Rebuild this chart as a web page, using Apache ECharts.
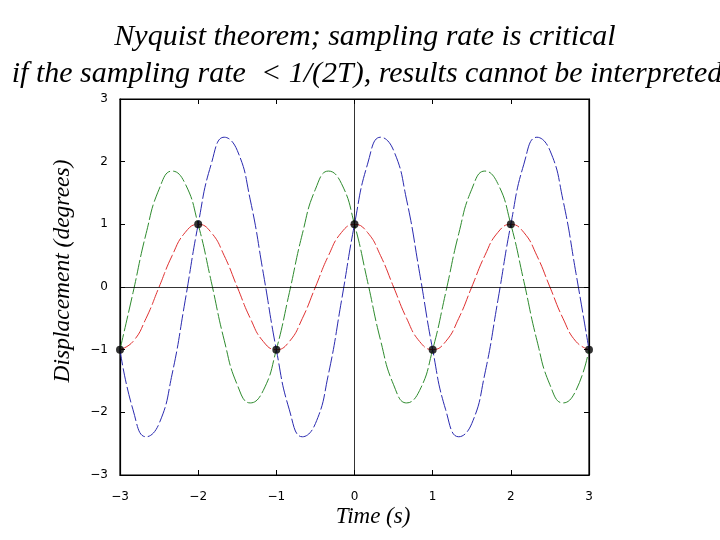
<!DOCTYPE html>
<html>
<head>
<meta charset="utf-8">
<script src="https://cdn.jsdelivr.net/npm/echarts@6/dist/echarts.min.js"></script>
<style>html,body{margin:0;padding:0;background:#fff;}#c{width:720px;height:540px;}</style>
</head>
<body>
<div id="c"></div>
<script>
// Time samples (s), every 1/6 s from -3 to 3
const times = [];
for (let k = 0; k <= 36; k++) times.push(-3 + k / 6);

// Values (degrees)
const redValues = [-1,-0.87,-0.5,0,0.5,0.87,1,0.87,0.5,0,-0.5,-0.87,
                   -1,-0.87,-0.5,0,0.5,0.87,1,0.87,0.5,0,-0.5,-0.87,
                   -1,-0.87,-0.5,0,0.5,0.87,1,0.87,0.5,0,-0.5,-0.87,-1];
const greenValues = [-1,-0.09,0.85,1.56,1.85,1.65,1,0.09,-0.85,-1.56,-1.85,-1.65,
                     -1,-0.09,0.85,1.56,1.85,1.65,1,0.09,-0.85,-1.56,-1.85,-1.65,
                     -1,-0.09,0.85,1.56,1.85,1.65,1,0.09,-0.85,-1.56,-1.85,-1.65,-1];
const blueValues = [-1,-1.96,-2.39,-2.18,-1.39,-0.22,1,1.96,2.39,2.18,1.39,0.22,
                    -1,-1.96,-2.39,-2.18,-1.39,-0.22,1,1.96,2.39,2.18,1.39,0.22,
                    -1,-1.96,-2.39,-2.18,-1.39,-0.22,1,1.96,2.39,2.18,1.39,0.22,-1];
// Sampled points
const sampleTimes = [-3,-2,-1,0,1,2,3];
const sampleValues = [-1,1,-1,1,-1,1,-1];

const titleLines = ['Nyquist theorem; sampling rate is critical',
                    'if the sampling rate  < 1/(2T), results cannot be interpreted'];
const xAxisName = 'Time (s)';
const yAxisName = 'Displacement (degrees)';

const pair = (xs, ys) => xs.map((x, i) => [x, ys[i]]);
const fmt = v => String(v).replace('-', '\u2212');
const serif = 'Liberation Serif';
const sans = 'DejaVu Sans';
const dash = [16, 3];

const chart = echarts.init(document.getElementById('c'), null, {renderer: 'canvas'});
chart.setOption({
  animation: false,
  backgroundColor: '#fff',
  graphic: [
    {type: 'text', x: 365, y: 37, style: {text: titleLines[0], fontFamily: serif, fontStyle: 'italic', fontSize: 30, fill: '#000', textAlign: 'center', textVerticalAlign: 'middle'}},
    {type: 'text', x: 367, y: 74, style: {text: titleLines[1], fontFamily: serif, fontStyle: 'italic', fontSize: 30, fill: '#000', textAlign: 'center', textVerticalAlign: 'middle'}},
    {type: 'text', x: 373, y: 517, style: {text: xAxisName, fontFamily: serif, fontStyle: 'italic', fontSize: 23, fill: '#000', textAlign: 'center', textVerticalAlign: 'middle'}},
    {type: 'text', x: 63, y: 271, rotation: Math.PI / 2, style: {text: yAxisName, fontFamily: serif, fontStyle: 'italic', fontSize: 23.5, fill: '#000', textAlign: 'center', textVerticalAlign: 'middle'}}
  ],
  grid: {left: 120, right: 131, top: 99, bottom: 65, show: true, borderColor: '#000', borderWidth: 1.2, backgroundColor: 'transparent'},
  xAxis: [
    {type: 'value', min: -3, max: 3, interval: 1, position: 'bottom',
     axisLine: {show: true, onZero: false, lineStyle: {color: '#000', width: 1.2}},
     axisTick: {show: true, inside: true, length: 5, lineStyle: {color: '#000'}},
     axisLabel: {formatter: fmt, fontFamily: sans, fontSize: 12, color: '#000', margin: 16},
     splitLine: {show: false}},
    {type: 'value', min: -3, max: 3, interval: 1, position: 'top',
     axisLine: {show: true, onZero: false, lineStyle: {color: '#000', width: 1.2}},
     axisTick: {show: true, inside: true, length: 5, lineStyle: {color: '#000'}},
     axisLabel: {show: false}, splitLine: {show: false}}
  ],
  yAxis: [
    {type: 'value', min: -3, max: 3, interval: 1, position: 'left',
     axisLine: {show: true, onZero: false, lineStyle: {color: '#000', width: 1.2}},
     axisTick: {show: true, inside: true, length: 5, lineStyle: {color: '#000'}},
     axisLabel: {formatter: fmt, fontFamily: sans, fontSize: 12, color: '#000', margin: 12},
     splitLine: {show: false}},
    {type: 'value', min: -3, max: 3, interval: 1, position: 'right',
     axisLine: {show: true, onZero: false, lineStyle: {color: '#000', width: 1.2}},
     axisTick: {show: true, inside: true, length: 5, lineStyle: {color: '#000'}},
     axisLabel: {show: false}, splitLine: {show: false}}
  ],
  series: [
    {type: 'line', data: [], silent: true,
     markLine: {silent: true, symbol: 'none', label: {show: false},
       lineStyle: {color: '#000', width: 0.8, type: 'solid'},
       data: [{xAxis: 0}, {yAxis: 0}]}},
    {name: 'red', type: 'line', data: pair(times, redValues), smooth: true, showSymbol: false,
     lineStyle: {color: '#e03030', width: 1, type: dash}},
    {name: 'green', type: 'line', data: pair(times, greenValues), smooth: true, showSymbol: false,
     lineStyle: {color: '#2e8b2e', width: 1, type: dash}},
    {name: 'blue', type: 'line', data: pair(times, blueValues), smooth: true, showSymbol: false,
     lineStyle: {color: '#2a2ab0', width: 1, type: dash}},
    {name: 'samples', type: 'scatter', data: pair(sampleTimes, sampleValues),
     symbol: 'circle', symbolSize: 8, itemStyle: {color: '#000'}, z: 10}
  ]
});
</script>
</body>
</html>
